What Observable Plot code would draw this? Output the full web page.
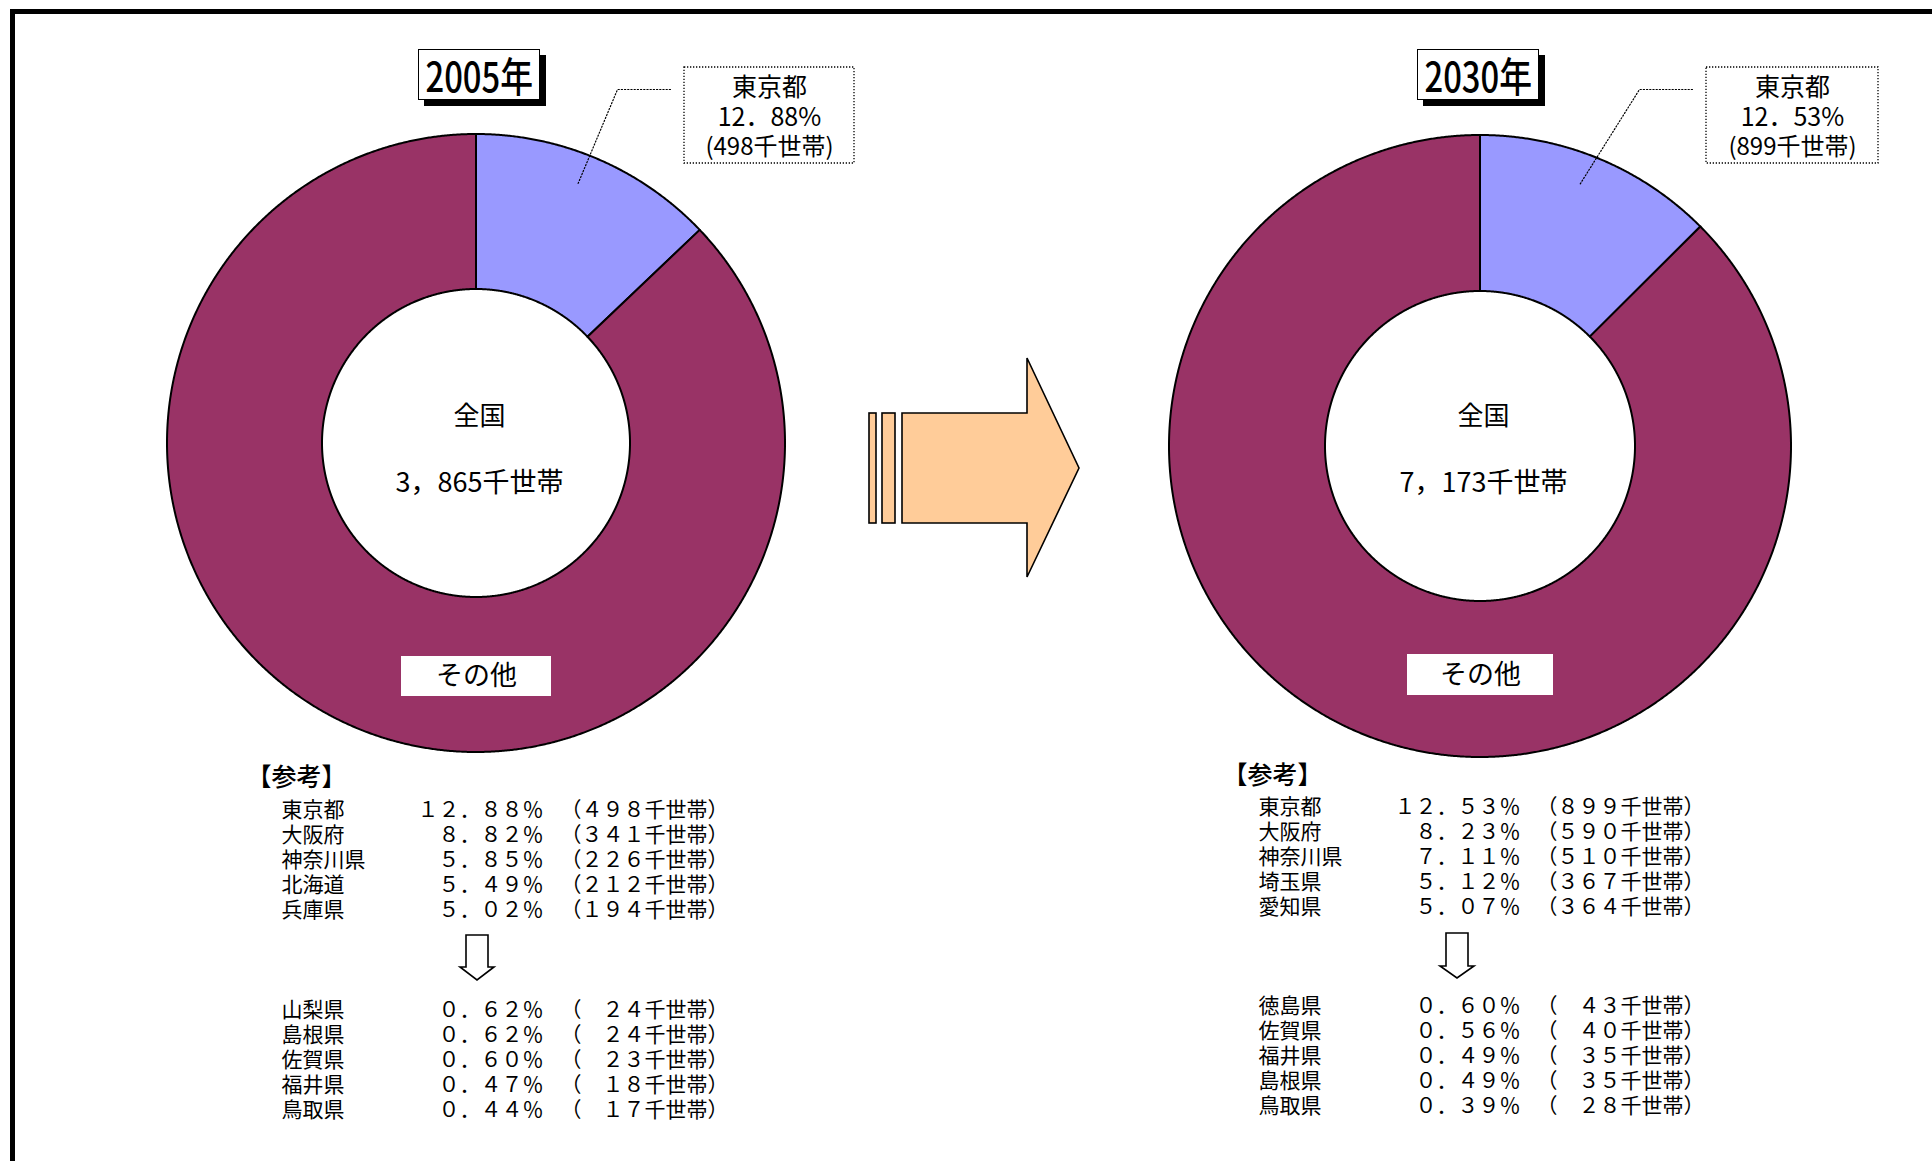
<!DOCTYPE html>
<html><head><meta charset="utf-8">
<script src="https://cdn.jsdelivr.net/npm/d3@7"></script>
<script src="https://cdn.jsdelivr.net/npm/@observablehq/plot@0.6"></script>
<style>
html,body{margin:0;padding:0;background:#fff;width:1932px;height:1161px;overflow:hidden;font-family:"Noto Sans CJK JP",sans-serif;}
#stage{position:relative;width:1932px;height:1161px;overflow:hidden;}
#frame{position:absolute;left:10px;top:9px;width:3000px;height:3000px;border:5px solid #000;box-sizing:border-box;}
#chart{position:absolute;left:0;top:0;}
svg.deco{position:absolute;left:0;top:0;}
.title{position:absolute;width:122px;height:51px;border:1.5px solid #000;background:#fff;box-shadow:6px 6px 0 #000;box-sizing:border-box;display:flex;align-items:center;justify-content:center;overflow:visible;}
.title span{display:inline-block;font-size:41px;line-height:1;transform:scaleX(0.8);white-space:nowrap;color:#000;font-weight:500;}
g[aria-label="center-total"] text{letter-spacing:2px;}
g[aria-label="callout-share"] text{letter-spacing:1px;}
</style></head><body>
<div id="stage"><div id="frame"></div><div id="chart"></div></div>
<script>
// ---------- data ----------
const years = ["2005年", "2030年"];
const totals = [3865, 7173];            // 全国 (千世帯)
const tokyoHouseholds = [498, 899];     // 東京都 (千世帯)
const sliceNames = ["東京都", "その他"];
const sliceColors = ["#9999FF", "#993366"];

const topPrefs2005 = ["東京都", "大阪府", "神奈川県", "北海道", "兵庫県"];
const topShares2005 = [12.88, 8.82, 5.85, 5.49, 5.02];
const topHouseholds2005 = [498, 341, 226, 212, 194];
const bottomPrefs2005 = ["山梨県", "島根県", "佐賀県", "福井県", "鳥取県"];
const bottomShares2005 = [0.62, 0.62, 0.60, 0.47, 0.44];
const bottomHouseholds2005 = [24, 24, 23, 18, 17];

const topPrefs2030 = ["東京都", "大阪府", "神奈川県", "埼玉県", "愛知県"];
const topShares2030 = [12.53, 8.23, 7.11, 5.12, 5.07];
const topHouseholds2030 = [899, 590, 510, 367, 364];
const bottomPrefs2030 = ["徳島県", "佐賀県", "福井県", "島根県", "鳥取県"];
const bottomShares2030 = [0.60, 0.56, 0.49, 0.49, 0.39];
const bottomHouseholds2030 = [43, 40, 35, 35, 28];

// ---------- layout ----------
const layout = [
  {cx: 476, cy: 443, R: 309, r: 154, titleX: 418, titleY: 49, boxL: 684, boxW: 170,
   otherW: 150, otherY1: 656, otherY2: 696,
   refX: 246, refY: 777, nameX: 281, pctX: 543, hhX: 560, topY: 810, botY: 1010},
  {cx: 1480, cy: 446, R: 311, r: 155, titleX: 1417, titleY: 49, boxL: 1706, boxW: 172,
   otherW: 146, otherY1: 654, otherY2: 695,
   refX: 1222, refY: 775, nameX: 1258, pctX: 1520, hhX: 1536, topY: 807, botY: 1006}
];
const rowStep = 25;
const FONT = "Noto Sans CJK JP";

// ---------- helpers ----------
const fw = s => s.replace(/[0-9.]/g, c => c === "." ? "．" : String.fromCharCode(c.charCodeAt(0) + 0xFEE0));
const pctText = v => fw(v.toFixed(2)) + "％";
const hhText = v => "（" + fw(String(v)).padStart(3, "　") + "千世帯）";

// ---------- donut geometry from data ----------
const pieGen = d3.pie().sort(null).value(d => d.value);
const arcPts = [];
const pies = years.map((year, i) => {
  const L = layout[i];
  const arcs = pieGen([
    {name: sliceNames[0], value: tokyoHouseholds[i]},
    {name: sliceNames[1], value: totals[i] - tokyoHouseholds[i]}
  ]);
  arcs.forEach(a => {
    const n = Math.max(2, Math.ceil((a.endAngle - a.startAngle) / (Math.PI / 720)));
    for (let k = 0; k <= n; k++) {
      const t = a.startAngle + (a.endAngle - a.startAngle) * k / n;
      arcPts.push({key: year + a.data.name, name: a.data.name,
        x1: L.cx + L.r * Math.sin(t), y1: L.cy - L.r * Math.cos(t),
        x2: L.cx + L.R * Math.sin(t), y2: L.cy - L.R * Math.cos(t)});
    }
  });
  const mid = (arcs[0].startAngle + arcs[0].endAngle) / 2;
  return {year, i, L, total: totals[i], tokyo: tokyoHouseholds[i],
          share: (i === 0 ? topShares2005 : topShares2030)[0], mid};
});

// leader lines
const leaders = [];
pies.forEach(p => {
  const L = p.L;
  leaders.push({k: p.year, x: L.boxL - 14, y: 89});
  leaders.push({k: p.year, x: L.boxL - 67, y: 89});
  leaders.push({k: p.year, x: L.cx + 0.9 * L.R * Math.sin(p.mid * 0.92), y: L.cy - 0.9 * L.R * Math.cos(p.mid * 0.92)});
});

// table rows
const rows = [];
const tables = [
  [topPrefs2005, topShares2005, topHouseholds2005, bottomPrefs2005, bottomShares2005, bottomHouseholds2005],
  [topPrefs2030, topShares2030, topHouseholds2030, bottomPrefs2030, bottomShares2030, bottomHouseholds2030]
];
tables.forEach((t, i) => {
  const L = layout[i];
  t[0].forEach((n, j) => rows.push({L, name: n, pct: pctText(t[1][j]), hh: hhText(t[2][j]), y: L.topY + j * rowStep}));
  t[3].forEach((n, j) => rows.push({L, name: n, pct: pctText(t[4][j]), hh: hhText(t[5][j]), y: L.botY + j * rowStep}));
});

const chart = Plot.plot({
  width: 1932, height: 1161,
  marginTop: 0, marginRight: 0, marginBottom: 0, marginLeft: 0,
  x: {domain: [0, 1932], range: [0, 1932], axis: null},
  y: {domain: [0, 1161], range: [0, 1161], axis: null},
  color: {domain: sliceNames, range: sliceColors},
  style: {background: "transparent", fontFamily: FONT, color: "#000"},
  marks: [
    Plot.area(arcPts, {x1: "x1", y1: "y1", x2: "x2", y2: "y2", z: "key", fill: "name",
      stroke: "#000", strokeWidth: 2, strokeLinejoin: "round"}),
    // center labels
    Plot.text(pies, {x: d => d.L.cx + 3, y: 416, text: () => "全国", fontSize: 26, fill: "#000"}),
    Plot.text(pies, {x: d => d.L.cx + 3, y: 483, text: d => d3.format(",")(d.total).replace(",", "，") + "千世帯",
      fontSize: 27, fill: "#000", ariaLabel: "center-total"}),
    // その他 label
    Plot.rect(pies, {x1: d => d.L.cx - d.L.otherW / 2, x2: d => d.L.cx + d.L.otherW / 2,
      y1: d => d.L.otherY1, y2: d => d.L.otherY2, fill: "#fff"}),
    Plot.text(pies, {x: d => d.L.cx, y: d => (d.L.otherY1 + d.L.otherY2) / 2, text: () => sliceNames[1], fontSize: 27, fill: "#000"}),
    // leader + 東京都 callout
    Plot.line(leaders, {x: "x", y: "y", z: "k", stroke: "#000", strokeWidth: 1.2, strokeDasharray: "1.2,2"}),
    Plot.rect(pies, {x1: d => d.L.boxL, x2: d => d.L.boxL + d.L.boxW, y1: 67, y2: 163,
      fill: "#fff", stroke: "#000", strokeWidth: 1.3, strokeDasharray: "1.3,1.7"}),
    Plot.text(pies, {x: d => d.L.boxL + d.L.boxW / 2, y: 87, text: () => sliceNames[0], fontSize: 25, fill: "#000"}),
    Plot.text(pies, {x: d => d.L.boxL + d.L.boxW / 2, y: 117, text: d => d.share.toFixed(2).replace(".", "．") + "%", fontSize: 25, fill: "#000", ariaLabel: "callout-share"}),
    Plot.text(pies, {x: d => d.L.boxL + d.L.boxW / 2, y: 147, text: d => "(" + d.tokyo + "千世帯)", fontSize: 24, fill: "#000"}),
    // reference tables
    Plot.text(pies, {x: d => d.L.refX, y: d => d.L.refY, text: () => "【参考】", textAnchor: "start", fontSize: 25, fontWeight: 500, fill: "#000"}),
    Plot.text(rows, {x: d => d.L.nameX, y: "y", text: "name", textAnchor: "start", fontSize: 21, fill: "#000"}),
    Plot.text(rows, {x: d => d.L.pctX, y: "y", text: "pct", textAnchor: "end", fontSize: 21, fill: "#000"}),
    Plot.text(rows, {x: d => d.L.hhX, y: "y", text: "hh", textAnchor: "start", fontSize: 21, fill: "#000"})
  ]
});
document.getElementById("chart").appendChild(chart);

// decorative arrows (big transition arrow and small down arrows)
const stage = document.getElementById("stage");
const ns = "http://www.w3.org/2000/svg";
const deco = document.createElementNS(ns, "svg");
deco.setAttribute("class", "deco");
deco.setAttribute("width", 1932);
deco.setAttribute("height", 1161);
deco.innerHTML = `
<g fill="#FFCC99" stroke="#000" stroke-width="1.6" stroke-linejoin="miter">
  <rect x="869" y="413" width="7" height="110"/>
  <rect x="882" y="413" width="13" height="110"/>
  <polygon points="902,413 1027,413 1027,358 1079,468 1027,577 1027,523 902,523"/>
</g>
<g fill="#fff" stroke="#000" stroke-width="1.6">
  <polygon points="466,935 488,935 488,967 494,967 477,980 460,967 466,967"/>
  <polygon points="1446,933 1468,933 1468,966 1474,966 1457,978 1440,966 1446,966"/>
</g>`;
stage.appendChild(deco);

// year titles
years.forEach((y, i) => {
  const d = document.createElement("div");
  d.className = "title";
  d.style.left = layout[i].titleX + "px";
  d.style.top = layout[i].titleY + "px";
  const s = document.createElement("span");
  s.textContent = y;
  d.appendChild(s);
  stage.appendChild(d);
});
</script>
</body></html>
